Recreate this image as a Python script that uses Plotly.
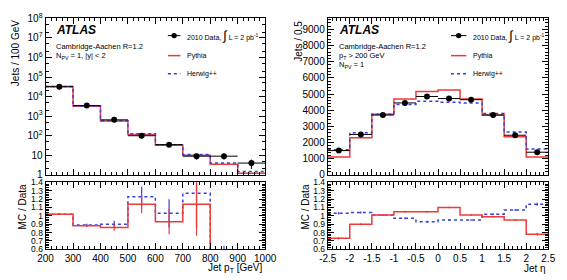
import plotly.graph_objects as go

# ---------------- data ----------------
pt_edges = [200, 300, 400, 500, 600, 700, 800, 900, 1000]
pt_data = [32000, 3500, 650, 100, 35, 9, 9, 4]
pt_data_err = [180, 60, 25, 10, 6, 3, 3, 2]
pt_pythia = [33000, 3200, 560, 115, 33, 10, 3.5, 1.2]
pt_herwig = [33000, 3300, 580, 125, 35, 11, 4.0, 1.5]
pt_ratio_pythia = [1.02, 0.88, 0.86, 1.14, 0.93, 1.14, 0.39, 0.30]
pt_ratio_pythia_err = [0.01, 0.015, 0.04, 0.11, 0.15, 0.38, 0.2, 0.2]
pt_ratio_herwig = [1.02, 0.89, 0.90, 1.23, 1.03, 1.27, 0.44, 0.37]
pt_ratio_herwig_err = [0.01, 0.015, 0.04, 0.12, 0.17, 0.42, 0.2, 0.2]

eta_edges = [-2.5, -2.0, -1.5, -1.0, -0.5, 0.0, 0.5, 1.0, 1.5, 2.0, 2.5]
eta_data = [1500, 2500, 3700, 4450, 4850, 4720, 4650, 3700, 2450, 1400]
eta_data_err = [40, 50, 60, 67, 70, 69, 68, 61, 50, 37]
eta_pythia = [1100, 2300, 3750, 4700, 5150, 5250, 4700, 3700, 2350, 1100]
eta_herwig = [1550, 2600, 3750, 4350, 4550, 4500, 4450, 3800, 2650, 1600]
eta_ratio_pythia = [0.73, 0.90, 1.01, 1.05, 1.05, 1.10, 1.01, 0.99, 0.95, 0.78]
eta_ratio_herwig = [1.03, 1.04, 1.01, 0.97, 0.93, 0.95, 0.95, 1.02, 1.07, 1.14]
eta_ratio_err = [0.015, 0.012, 0.01, 0.01, 0.01, 0.01, 0.01, 0.01, 0.012, 0.018]

log_tickvals = [1, 10, 1e2, 1e3, 1e4, 1e5, 1e6, 1e7, 1e8]
log_ticktext = ["1", "10", "10<sup>2</sup>", "10<sup>3</sup>", "10<sup>4</sup>",
                "10<sup>5</sup>", "10<sup>6</sup>", "10<sup>7</sup>", "10<sup>8</sup>"]
ratio_tickvals = [0.6, 0.7, 0.8, 0.9, 1.0, 1.1, 1.2, 1.3, 1.4]
ratio_ticktext = ["0.6", "0.7", "0.8", "0.9", "1", "1.1", "1.2", "1.3", "1.4"]
eta_tickvals = [-2.5, -2, -1.5, -1, -0.5, 0, 0.5, 1, 1.5, 2, 2.5]
eta_ticktext = ["-2.5", "-2", "-1.5", "-1", "-0.5", "0", "0.5", "1", "1.5", "2", "2.5"]

RED = "rgb(235,60,60)"
BLUE = "rgb(60,60,225)"
FONT = "Liberation Sans, Arial, sans-serif"
W, H = 567, 280


def centers(edges):
    return [(edges[i] + edges[i + 1]) / 2 for i in range(len(edges) - 1)]


def halfw(edges):
    return [(edges[i + 1] - edges[i]) / 2 for i in range(len(edges) - 1)]


def step(edges, vals, color, dash, xa, ya, width=1.5):
    return go.Scatter(x=edges, y=list(vals) + [vals[-1]], mode="lines",
                      line=dict(shape="hv", color=color, dash=dash, width=width),
                      xaxis=xa, yaxis=ya, showlegend=False, hoverinfo="skip")


def errs(edges, vals, err, color, xa, ya):
    return go.Scatter(x=centers(edges), y=vals, mode="markers",
                      marker=dict(size=1, color=color),
                      error_y=dict(type="data", array=err, color=color, thickness=1.2, width=0),
                      xaxis=xa, yaxis=ya, showlegend=False, hoverinfo="skip", cliponaxis=True)


def data_pts(edges, vals, err, xa, ya):
    return go.Scatter(x=centers(edges), y=vals, mode="markers",
                      marker=dict(size=6, color="black"),
                      error_x=dict(type="data", array=halfw(edges), color="black", thickness=1, width=0),
                      error_y=dict(type="data", array=err, color="black", thickness=1, width=0),
                      xaxis=xa, yaxis=ya, showlegend=False, hoverinfo="skip")


fig = go.Figure()
# left top
fig.add_trace(step(pt_edges, pt_pythia, RED, "solid", "x", "y"))
fig.add_trace(step(pt_edges, pt_herwig, BLUE, "dot", "x", "y"))
fig.add_trace(data_pts(pt_edges, pt_data, pt_data_err, "x", "y"))
# left ratio
fig.add_trace(step(pt_edges, pt_ratio_herwig, BLUE, "dot", "x2", "y2"))
fig.add_trace(errs(pt_edges, pt_ratio_herwig, pt_ratio_herwig_err, BLUE, "x2", "y2"))
fig.add_trace(step(pt_edges, pt_ratio_pythia, RED, "solid", "x2", "y2"))
fig.add_trace(errs(pt_edges, pt_ratio_pythia, pt_ratio_pythia_err, RED, "x2", "y2"))
# right top
fig.add_trace(step(eta_edges, eta_pythia, RED, "solid", "x3", "y3"))
fig.add_trace(step(eta_edges, eta_herwig, BLUE, "dot", "x3", "y3"))
fig.add_trace(data_pts(eta_edges, eta_data, eta_data_err, "x3", "y3"))
# right ratio
fig.add_trace(step(eta_edges, eta_ratio_herwig, BLUE, "dot", "x4", "y4"))
fig.add_trace(errs(eta_edges, eta_ratio_herwig, eta_ratio_err, BLUE, "x4", "y4"))
fig.add_trace(step(eta_edges, eta_ratio_pythia, RED, "solid", "x4", "y4"))
fig.add_trace(errs(eta_edges, eta_ratio_pythia, eta_ratio_err, RED, "x4", "y4"))


def px(x):
    return x / W


def py(y):
    return 1 - y / H


LX = [px(38), px(266)]
RX = [px(331), px(560)]
TOPY = [py(176), py(12)]
RATY = [py(254), py(184)]

axbase = dict(showline=True, linecolor="black", linewidth=1, mirror="allticks",
              ticks="inside", ticklen=6, tickcolor="black", showgrid=False, zeroline=False,
              tickfont=dict(family=FONT, size=10, color="black"))
minor = dict(ticks="inside", ticklen=3, tickcolor="black", showgrid=False)
rfont = dict(family=FONT, size=8.5, color="black")

fig.update_layout(
    xaxis=dict(axbase, domain=LX, range=[200, 1000], anchor="y", matches="x2",
               showticklabels=False, tickvals=pt_edges, minor=dict(minor, dtick=20)),
    yaxis=dict(axbase, domain=TOPY, type="log", range=[0, 8], anchor="x",
               tickvals=log_tickvals, ticktext=log_ticktext, minor=minor),
    xaxis2=dict(axbase, domain=LX, range=[200, 1000], anchor="y2",
                tickvals=pt_edges, ticktext=[str(v) for v in pt_edges], minor=dict(minor, dtick=20)),
    yaxis2=dict(axbase, domain=RATY, range=[0.6, 1.4], anchor="x2", tickfont=rfont,
                tickvals=ratio_tickvals, ticktext=ratio_ticktext, minor=dict(minor, dtick=0.02)),
    xaxis3=dict(axbase, domain=RX, range=[-2.5, 2.5], anchor="y3", matches="x4",
                showticklabels=False, tickvals=eta_tickvals, minor=dict(minor, dtick=0.1)),
    yaxis3=dict(axbase, domain=TOPY, range=[0, 9680], anchor="x3",
                tickvals=[0, 1000, 2000, 3000, 4000, 5000, 6000, 7000, 8000, 9000],
                minor=dict(minor, dtick=200)),
    xaxis4=dict(axbase, domain=RX, range=[-2.5, 2.5], anchor="y4",
                tickvals=eta_tickvals, ticktext=eta_ticktext, minor=dict(minor, dtick=0.1)),
    yaxis4=dict(axbase, domain=RATY, range=[0.6, 1.4], anchor="x4", tickfont=rfont,
                tickvals=ratio_tickvals, ticktext=ratio_ticktext, minor=dict(minor, dtick=0.02)),
    width=W, height=H, margin=dict(l=0, r=0, t=0, b=0),
    paper_bgcolor="white", plot_bgcolor="white", showlegend=False,
    font=dict(family=FONT, color="black"),
)

ann = []
shapes = []


def text(x, y, s, size=8, xanchor="left", yanchor="middle", angle=0, **kw):
    ann.append(dict(x=px(x), y=py(y), xref="paper", yref="paper", text=s, showarrow=False,
                    xanchor=xanchor, yanchor=yanchor, textangle=angle,
                    font=dict(family=FONT, size=size, color="black"), **kw))


# axis titles
text(7, 12, "Jets / 100 GeV", size=10, xanchor="center", yanchor="top", angle=-90)
text(15, 184, "MC / Data", size=10, xanchor="center", yanchor="top", angle=-90)
text(266, 274, "Jet p<sub>T</sub> [GeV]", size=10, xanchor="right")
text(301, 12, "Jets / 0.5", size=10, xanchor="center", yanchor="top", angle=-90)
text(308, 184, "MC / Data", size=10, xanchor="center", yanchor="top", angle=-90)
text(560, 274, "Jet η", size=10, xanchor="right")

# left labels
text(47, 24, "<b><i>ATLAS</i></b>", size=12)
text(47, 41, "Cambridge-Aachen R=1.2", size=7.5)
text(47, 51, "N<sub>PV</sub> = 1, |y| < 2", size=7.5)
# right labels
text(341, 24, "<b><i>ATLAS</i></b>", size=12)
text(341, 41, "Cambridge-Aachen R=1.2", size=7.5)
text(341, 51, "p<sub>T</sub> > 200 GeV", size=7.5)
text(341, 61, "N<sub>PV</sub> = 1", size=7.5)


def legend(x0, x1):
    # data
    shapes.append(dict(type="line", xref="paper", yref="paper", x0=px(x0), x1=px(x1),
                       y0=py(30), y1=py(30), line=dict(color="black", width=1)))
    shapes.append(dict(type="circle", xref="paper", yref="paper",
                       x0=px((x0 + x1) / 2 - 2.8), x1=px((x0 + x1) / 2 + 2.8),
                       y0=py(32.8), y1=py(27.2), fillcolor="black", line=dict(color="black", width=0)))
    text(x1 + 5, 30, "2010 Data, <span style='font-size:13px'>∫</span> L = 2 pb<sup>-1</sup>", size=7)
    shapes.append(dict(type="line", xref="paper", yref="paper", x0=px(x0), x1=px(x1),
                       y0=py(51), y1=py(51), line=dict(color=RED, width=1.5)))
    text(x1 + 5, 51, "Pythia", size=7)
    shapes.append(dict(type="line", xref="paper", yref="paper", x0=px(x0), x1=px(x1),
                       y0=py(70), y1=py(70), line=dict(color=BLUE, width=1.5, dash="dot")))
    text(x1 + 5, 70, "Herwig++", size=7)


legend(165, 178)
legend(459, 475)

fig.update_layout(annotations=ann, shapes=shapes)
fig.write_html("out.html")
